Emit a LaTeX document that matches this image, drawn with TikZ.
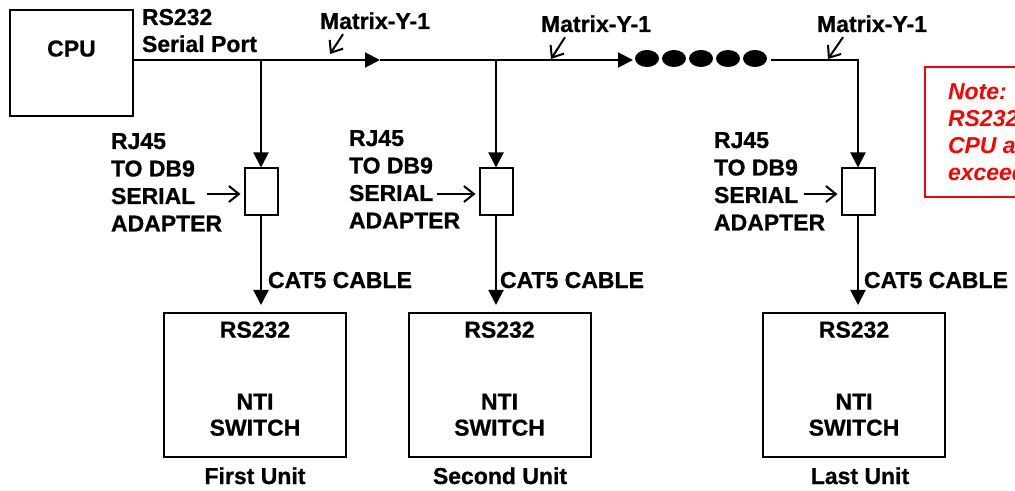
\documentclass[tikz,border=0pt]{standalone}
\usepackage{fontspec}
\setmainfont{Liberation Sans}[BoldFeatures={FakeBold=0.8}]
\usetikzlibrary{arrows.meta}

\begin{document}
\begin{tikzpicture}[x=0.5pt,y=-0.5pt,line width=1pt,
    >={Triangle[length=7.5pt,width=7.5pt]},
    every node/.style={font=\bfseries\fontsize{11.5}{13.75}\selectfont,inner sep=0pt},
    txt/.style={align=left,anchor=base west},
    pointer/.style={-{Straight Barb[length=5pt,width=8pt]}},
    adapter/.style={draw,minimum width=16.5pt,minimum height=23.5pt},
    unit/.style={draw,minimum width=91pt,minimum height=72pt,align=center,
        font=\bfseries\fontsize{11.5}{13}\selectfont}]
    \useasboundingbox (0,0) rectangle (1015,491);
    \clip (0,0) rectangle (1015,491);

    % CPU and serial port
    \node[draw,minimum width=61.5pt,minimum height=53pt,text depth=14.5pt] (cpu) at (71.5,63) {CPU};
    \node[txt,font=\bfseries\fontsize{11.5}{13.5}\selectfont] (port) at (141,52) {RS232\\Serial Port};

    % Daisy chain line
    \coordinate (j1) at (261,60);
    \coordinate (m1) at (380,60);
    \coordinate (j2) at (496,60);
    \coordinate (m2) at (633,60);
    \coordinate (d0) at (771,60);
    \coordinate (j3) at (858,60);
    \draw[->] (cpu.east |- j1) -- (m1);
    \draw[->] (m1) -- (m2);
    \foreach \x in {647,674,701,728,755}
        \fill (\x,58.5) ellipse [x radius=6pt, y radius=4.25pt];

    % Matrix labels
    \node[anchor=base] (mat1) at (375,29) {Matrix-Y-1};
    \node[anchor=base] (mat2) at (596,32) {Matrix-Y-1};
    \node[anchor=base] (mat3) at (872,32) {Matrix-Y-1};
    \coordinate (t1) at (330,54);
    \coordinate (t2) at (551,59);
    \coordinate (t3) at (828,59);
    \draw[pointer] ([xshift=-16pt,yshift=-2pt]mat1.south) -- (t1);
    \draw[pointer] ([xshift=-15.5pt,yshift=-2pt]mat2.south) -- (t2);
    \draw[pointer] ([xshift=-14.5pt,yshift=-2pt]mat3.south) -- (t3);

    % Adapters
    \node[adapter] (ad1) at (261,192) {};
    \node[adapter] (ad2) at (496,192) {};
    \node[adapter] (ad3) at (858,192) {};
    \draw[->] (j1) -- (ad1.north);
    \draw[->] (j2) -- (ad2.north);
    \draw[->] (d0) -- (j3) -- (ad3.north);

    \node[txt] (rj1) at (110,231.5) {RJ45\\TO DB9\\SERIAL\\ADAPTER};
    \node[txt] (rj2) at (348,228.5) {RJ45\\TO DB9\\SERIAL\\ADAPTER};
    \node[txt] (rj3) at (713,230.5) {RJ45\\TO DB9\\SERIAL\\ADAPTER};
    \draw[pointer,shorten >=1.5pt] ([xshift=-18.5pt,yshift=-1pt]ad1.west) -- ([yshift=-1pt]ad1.west);
    \draw[pointer,shorten >=1.5pt] ([xshift=-21pt,yshift=-1pt]ad2.west) -- ([yshift=-1pt]ad2.west);
    \draw[pointer,shorten >=1.5pt] ([xshift=-18.5pt,yshift=-1pt]ad3.west) -- ([yshift=-1pt]ad3.west);

    % Switch units
    \node[unit] (sw1) at (255,385) {RS232\\[23pt]NTI\\SWITCH\rule[-6.4pt]{0pt}{6.4pt}};
    \node[unit] (sw2) at (499.5,385) {RS232\\[23pt]NTI\\SWITCH\rule[-6.4pt]{0pt}{6.4pt}};
    \node[unit] (sw3) at (854,385) {RS232\\[23pt]NTI\\SWITCH\rule[-6.4pt]{0pt}{6.4pt}};
    \draw[->,shorten >=3.5pt] (ad1) -- (ad1 |- sw1.north);
    \draw[->,shorten >=3.5pt] (ad2) -- (ad2 |- sw2.north);
    \draw[->,shorten >=3.5pt] (ad3) -- (ad3 |- sw3.north);
    \node[txt] (cab1) at (267,288) {CAT5 CABLE};
    \node[txt] (cab2) at (499,288) {CAT5 CABLE};
    \node[txt] (cab3) at (863,288) {CAT5 CABLE};

    \node[anchor=base] (u1) at (255,484) {First Unit};
    \node[anchor=base] (u2) at (500,484) {Second Unit};
    \node[anchor=base] (u3) at (860,484) {Last Unit};

    % Note
    \draw[red] (925,67) rectangle (1040,197);
    \node[txt,red,font=\bfseries\itshape\fontsize{11.5}{13.5}\selectfont] (note) at (947,181)
        {Note:\\RS232 cable between\\CPU and last unit must not\\exceed 50 feet.};
\end{tikzpicture}
\end{document}
